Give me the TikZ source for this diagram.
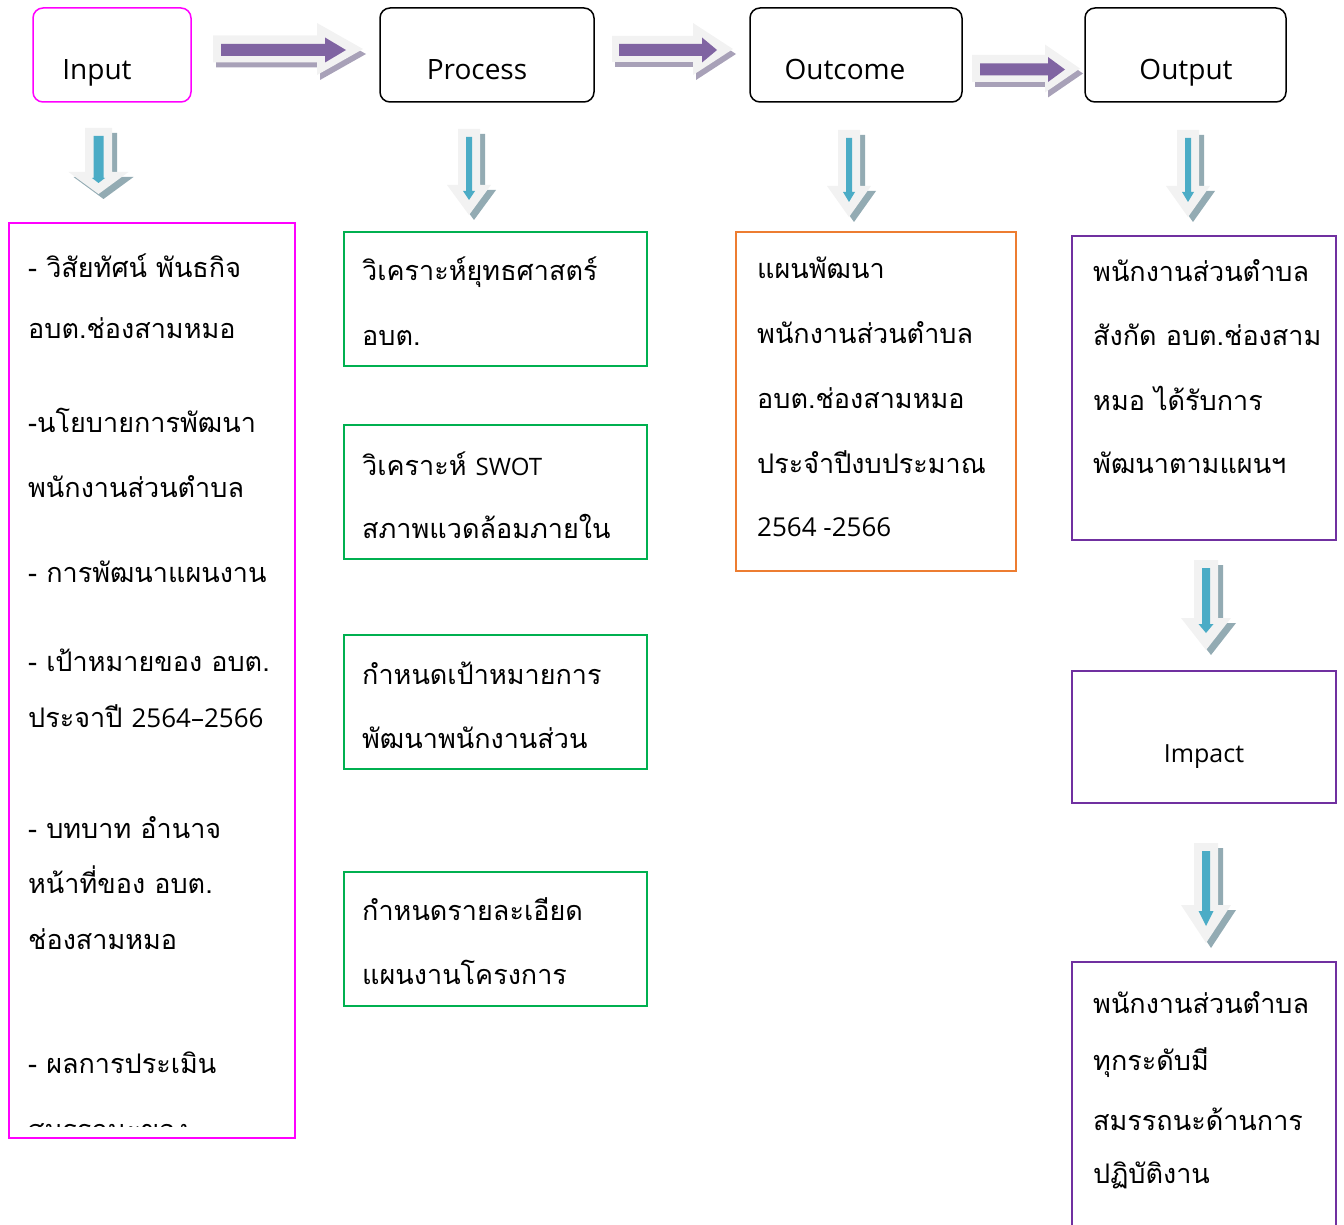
\documentclass[tikz,border=0pt]{standalone}
\usepackage{fontspec}
\newfontfamily\thai[Script=Thai]{Loma}
\newfontfamily\hdr{Open Sans}
\definecolor{magbox}{HTML}{FF00FF}
\definecolor{grnbox}{HTML}{00B050}
\definecolor{orgbox}{HTML}{ED7D31}
\definecolor{purbox}{HTML}{7030A0}
\definecolor{arrgrey}{HTML}{F2F2F2}
\definecolor{arrpur}{HTML}{8064A2}
\definecolor{arrblue}{HTML}{4BACC6}
\definecolor{pshadow}{HTML}{A8A1B8}
\definecolor{dshadow}{HTML}{93ABB3}
\newcommand\rshape[7]{\fill[#7] (#1,{#4-#5}) -- (#2,{#4-#5}) -- (#2,{#4-#6}) -- (#3,#4) -- (#2,{#4+#6}) -- (#2,{#4+#5}) -- (#1,{#4+#5}) -- cycle;}
\newcommand\rtarr[9]{%
  \rshape{#1}{#2}{#3}{#4}{#5}{#6}{pshadow,shift={(3,5)}}
  \rshape{#1}{#2}{#3}{#4}{#5}{#6}{arrgrey}
  \rshape{#7}{#8}{#9}{#4+1}{6}{12.5}{arrpur}}
\newcommand\dshape[7]{\fill[#7] ({#1-#5},#2) -- ({#1+#5},#2) -- ({#1+#5},#3) -- ({#1+#6},#3) -- (#1,#4) -- ({#1-#6},#3) -- ({#1-#5},#3) -- cycle;}
\newcommand\dnarr[9]{%
  \dshape{#1}{#2}{#3}{#4}{#5}{#6}{dshadow,shift={(5,5)}}
  \dshape{#1}{#2}{#3}{#4}{#5}{#6}{arrgrey}
  \dshape{#1}{#2+8}{#3+6}{#4-#9}{#7}{#8}{arrblue}}
\newcommand\lat[1]{{\hdr\fontsize{26}{30}\selectfont #1}}
\tikzset{
  topbox/.style={draw=black, line width=1.5pt, rounded corners=10pt, minimum height=94pt, inner sep=0pt},
  listbox/.style={draw=#1, line width=1.5pt, inner sep=0pt},
  hdrtxt/.style={anchor=base, inner sep=0pt, font=\hdr\fontsize{28}{34}\selectfont},
  txt/.style={anchor=base west, inner sep=0pt, font=\thai\fontsize{27}{32}\selectfont},
}
\begin{document}
\begin{tikzpicture}[x=1pt,y=-1pt]
\useasboundingbox (0,0) rectangle (1344,1225);
\clip (0,0) rectangle (1344,1225);
% top boxes
\node[topbox, draw=magbox, minimum width=158pt] (input) at (112,55) {};
\node[topbox, minimum width=214pt] (process) at (487,55) {};
\node[topbox, minimum width=212pt] (outcome) at (856,55) {};
\node[topbox, minimum width=201pt] (output) at (1185.5,55) {};
\node[hdrtxt] (inputt) at (97,80) {Input};
\node[hdrtxt] (processt) at (477,80) {Process};
\node[hdrtxt] (outcomet) at (845,80) {Outcome};
\node[hdrtxt] (outputt) at (1186,80) {Output};
% right arrows
\rtarr{213}{317}{363}{49}{13.5}{26}{221}{325}{346}
\rtarr{612}{693}{733}{49}{13}{26}{619}{702}{717}
\rtarr{972}{1045}{1080}{68.5}{13.5}{24}{980}{1048}{1065}
% down arrows
\dnarr{98.5}{128}{172}{194}{13.5}{30}{5}{6.5}{11}
\dnarr{469}{129}{185}{215}{11}{22}{3}{6}{15}
\dnarr{849}{130}{186}{217}{11}{22}{3}{6}{15}
\dnarr{1188}{130}{186}{217}{11}{22}{3}{6}{15}
\dnarr{1206}{560}{618}{650}{12}{25}{4}{7.5}{17}
\dnarr{1206}{843}{905}{943}{12}{25}{4}{7.5}{17}
% input list box
\node[listbox=magbox, minimum width=286pt, minimum height=915pt] (inbox) at (152,680.5) {};
\node[txt] (i1) at (28,277) {- วิสัยทัศน์ พันธกิจ};
\node[txt] (i2) at (28,338) {อบต.ช่องสามหมอ};
\node[txt] (i3) at (28,432) {-นโยบายการพัฒนา};
\node[txt] (i4) at (28,497) {พนักงานส่วนตำบล};
\node[txt] (i5) at (28,582) {- การพัฒนาแผนงาน};
\node[txt] (i6) at (28,671) {- เป้าหมายของ อบต.};
\node[txt] (i7) at (28,727) {ประจาปี \lat{2564–2566}};
\node[txt] (i8) at (28,838) {- บทบาท อำนาจ};
\node[txt] (i9) at (28,893) {หน้าที่ของ อบต.};
\node[txt] (i10) at (28,949) {ช่องสามหมอ};
\node[txt] (i11) at (28,1073) {- ผลการประเมิน};
\begin{scope}
\clip (0,0) rectangle (1344,1126);
\node[txt] (i12) at (28,1139) {สมรรถนะของ};
\end{scope}
% process boxes
\node[listbox=grnbox, minimum width=303pt, minimum height=134pt] (p1) at (495.5,299) {};
\node[listbox=grnbox, minimum width=303pt, minimum height=134pt] (p2) at (495.5,492) {};
\node[listbox=grnbox, minimum width=303pt, minimum height=134pt] (p3) at (495.5,702) {};
\node[listbox=grnbox, minimum width=303pt, minimum height=134pt] (p4) at (495.5,939) {};
\node[txt] (p1a) at (362,280) {วิเคราะห์ยุทธศาสตร์};
\node[txt] (p1b) at (362,345) {อบต.};
\node[txt] (p2a) at (362,475) {วิเคราะห์ {\hdr\fontsize{24}{28}\selectfont SWOT}};
\node[txt] (p2b) at (362,538) {สภาพแวดล้อมภายใน};
\node[txt] (p3a) at (362,684) {กำหนดเป้าหมายการ};
\node[txt] (p3b) at (362,748) {พัฒนาพนักงานส่วน};
\node[txt] (p4a) at (362,920) {กำหนดรายละเอียด};
\node[txt] (p4b) at (362,984) {แผนงานโครงการ};
% outcome box
\node[listbox=orgbox, minimum width=280pt, minimum height=339pt] (obox) at (876,401.5) {};
\node[txt] (o1) at (757,278) {แผนพัฒนา};
\node[txt] (o2) at (757,343) {พนักงานส่วนตำบล};
\node[txt] (o3) at (757,408) {อบต.ช่องสามหมอ};
\node[txt] (o4) at (757,473) {ประจำปีงบประมาณ};
\node[txt] (o5) at (757,536) {\lat{2564 -2566}};
% output box
\node[listbox=purbox, minimum width=264pt, minimum height=304pt] (ubox) at (1204,388) {};
\node[txt] (u1) at (1093,281) {พนักงานส่วนตำบล};
\node[txt] (u2) at (1093,345) {สังกัด อบต.ช่องสาม};
\node[txt] (u3) at (1093,410) {หมอ ได้รับการ};
\node[txt] (u4) at (1093,473) {พัฒนาตามแผนฯ};
% impact box
\node[listbox=purbox, minimum width=264pt, minimum height=132pt] (imbox) at (1204,737) {};
\node[hdrtxt, font=\hdr\fontsize{25}{30}\selectfont] (imt) at (1204,762) {Impact};
% bottom box
\node[listbox=purbox, minimum width=264pt, minimum height=338pt] (bbox) at (1204,1131) {};
\node[txt] (b1) at (1093,1013) {พนักงานส่วนตำบล};
\node[txt] (b2) at (1093,1070) {ทุกระดับมี};
\node[txt] (b3) at (1093,1130) {สมรรถนะด้านการ};
\node[txt] (b4) at (1093,1183) {ปฏิบัติงาน};
\end{tikzpicture}
\end{document}
